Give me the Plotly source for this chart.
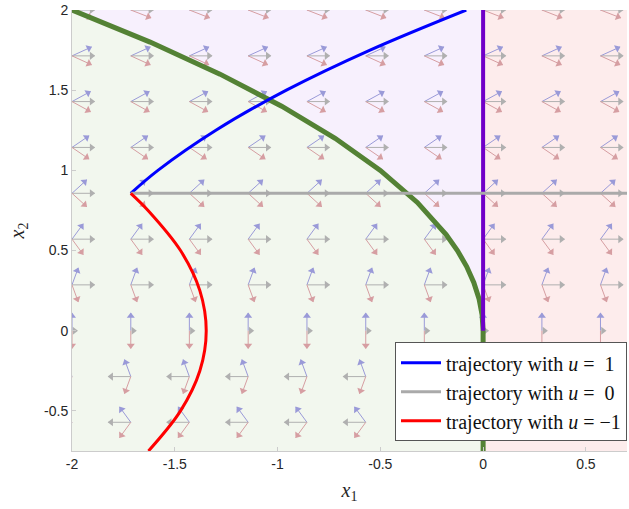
import numpy as np
import plotly.graph_objects as go

# ---------------- data ----------------
# grid of the vector field
x1_grid = [-2.0, -1.714, -1.429, -1.143, -0.857, -0.571, -0.286, 0.0, 0.286, 0.571]
x2_grid = [-0.571, -0.286, 0.0, 0.286, 0.571, 0.857, 1.143, 1.429, 1.714, 2.0]
u_values = [1, 0, -1]
arrow_colors = {1: "#9a9ad8", 0: "#b0b0b0", -1: "#d69ea2"}

# switching curve
switch_x2 = [2.0, 1.8, 1.6, 1.4, 1.2, 1.0, 0.8, 0.6, 0.5, 0.4, 0.3, 0.2, 0.1, 0.05, 0.0]
switch_x1 = [-2.0, -1.62, -1.28, -0.98, -0.72, -0.5, -0.32, -0.18, -0.125, -0.08,
             -0.045, -0.02, -0.005, -0.00125, 0.0]

# trajectories
blue_x2 = [0.857, 1.0, 1.25, 1.5, 1.75, 2.0]
blue_x1 = [-1.714, -1.582, -1.300, -0.957, -0.550, -0.082]
gray_x1 = [-1.714, 0.7]
gray_x2 = [0.857, 0.857]
red_x2 = [0.857, 0.75, 0.5, 0.25, 0.0, -0.25, -0.5, -0.75]
red_x1 = [-1.714, -1.630, -1.472, -1.378, -1.347, -1.378, -1.472, -1.628]

legend_names = ["trajectory with <i>u</i> =  1",
                "trajectory with <i>u</i> =  0",
                "trajectory with <i>u</i> = \u22121"]

xticks = [-2, -1.5, -1, -0.5, 0, 0.5]
xtick_text = ["-2", "-1.5", "-1", "-0.5", "0", "0.5"]
yticks = [-0.5, 0, 0.5, 1, 1.5, 2]
ytick_text = ["-0.5", "0", "0.5", "1", "1.5", "2"]

XR = [-2.0, 0.7]
YR = [-0.75, 2.0]

# ---------------- figure ----------------
W, H = 629, 509
ML, MR, MT, MB = 72, 2, 8, 58
pw, ph = W - ML - MR, H - MT - MB
sx = pw / (XR[1] - XR[0])
sy = ph / (YR[1] - YR[0])

fig = go.Figure()

# background regions
gx = list(switch_x1) + [0.0, XR[0], XR[0]]
gy = list(switch_x2) + [YR[0], YR[0], 2.0]
fig.add_trace(go.Scatter(x=gx, y=gy, fill="toself", fillcolor="#f2f7ee", mode="none",
                         showlegend=False, hoverinfo="skip"))
px_ = list(switch_x1) + [0.0, 0.0]
py_ = list(switch_x2) + [2.0, 2.0]
fig.add_trace(go.Scatter(x=px_ + [switch_x1[0]], y=py_ + [switch_x2[0]], fill="toself",
                         fillcolor="#f7f0fd", mode="none", showlegend=False, hoverinfo="skip"))
fig.add_trace(go.Scatter(x=[0, XR[1], XR[1], 0, 0], y=[YR[0], YR[0], YR[1], YR[1], YR[0]],
                         fill="toself", fillcolor="#fdecec", mode="none",
                         showlegend=False, hoverinfo="skip"))

# vector field arrows
L = 0.11
for u in u_values:
    lx, ly, hx, hy, ang = [], [], [], [], []
    for a in x1_grid:
        for b in x2_grid:
            vx, vy = b, u
            n = np.hypot(vx, vy)
            if n == 0:
                hx.append(a + 2.5 / sx); hy.append(b); ang.append(90)
                continue
            dx, dy = vx / n * L, vy / n * L
            lx += [a, a + dx, None]
            ly += [b, b + dy, None]
            spx, spy = dx * sx, dy * sy
            sl = np.hypot(spx, spy)
            back = 3.0
            hx.append(a + dx - spx / sl * back / sx)
            hy.append(b + dy - spy / sl * back / sy)
            ang.append(float(np.degrees(np.arctan2(spx, spy))))
    col = arrow_colors[u]
    fig.add_trace(go.Scatter(x=lx, y=ly, mode="lines", line=dict(color=col, width=1),
                             showlegend=False, hoverinfo="skip"))
    fig.add_trace(go.Scatter(x=hx, y=hy, mode="markers",
                             marker=dict(symbol="triangle-up", size=7, color=col, angle=ang,
                                         line=dict(width=0)),
                             showlegend=False, hoverinfo="skip"))

# switching curve
fig.add_trace(go.Scatter(x=switch_x1, y=switch_x2, mode="lines",
                         line=dict(color="#548235", width=5),
                         showlegend=False, hoverinfo="skip"))
fig.add_trace(go.Scatter(x=[0.0, 0.0], y=[0.0, YR[0]], mode="lines",
                         line=dict(color="#548235", width=5),
                         showlegend=False, hoverinfo="skip"))
fig.add_trace(go.Scatter(x=[0.0, 0.0], y=[0.0, 2.0], mode="lines",
                         line=dict(color="#7000c8", width=4),
                         showlegend=False, hoverinfo="skip"))

# trajectories
fig.add_trace(go.Scatter(x=blue_x1, y=blue_x2, mode="lines", name=legend_names[0],
                         line=dict(color="#0000ff", width=3, shape="spline")))
fig.add_trace(go.Scatter(x=gray_x1, y=gray_x2, mode="lines", name=legend_names[1],
                         line=dict(color="#aaaaaa", width=3)))
fig.add_trace(go.Scatter(x=red_x1, y=red_x2, mode="lines", name=legend_names[2],
                         line=dict(color="#ff0000", width=3, shape="spline")))

axis_common = dict(showgrid=False, zeroline=False, showline=True, linecolor="#cccccc",
                   linewidth=1, ticks="inside", ticklen=4, tickcolor="#cccccc",
                   ticklabeloverflow="allow",
                   tickfont=dict(family="Liberation Sans, Arial", size=14, color="#262626"),
                   mirror=False)

fig.update_layout(
    width=W, height=H,
    margin=dict(l=ML, r=MR, t=MT, b=MB),
    paper_bgcolor="white", plot_bgcolor="white",
    xaxis=dict(range=XR, tickvals=xticks, ticktext=xtick_text,
               title=dict(text="<i>x</i><sub>1</sub>", standoff=12,
                          font=dict(family="Liberation Serif, Times New Roman", size=20, color="#262626")),
               **axis_common),
    yaxis=dict(range=YR, tickvals=yticks, ticktext=ytick_text,
               title=dict(text="<i>x</i><sub>2</sub>", standoff=14,
                          font=dict(family="Liberation Serif, Times New Roman", size=20, color="#262626")),
               **axis_common),
    legend=dict(x=1, y=0.022, xanchor="right", yanchor="bottom",
                bgcolor="white", bordercolor="#555555", borderwidth=1,
                font=dict(family="Liberation Serif, Times New Roman", size=20, color="#111111"),
                tracegroupgap=0, itemwidth=40),
    showlegend=True,
)

fig.write_html("out.html")
